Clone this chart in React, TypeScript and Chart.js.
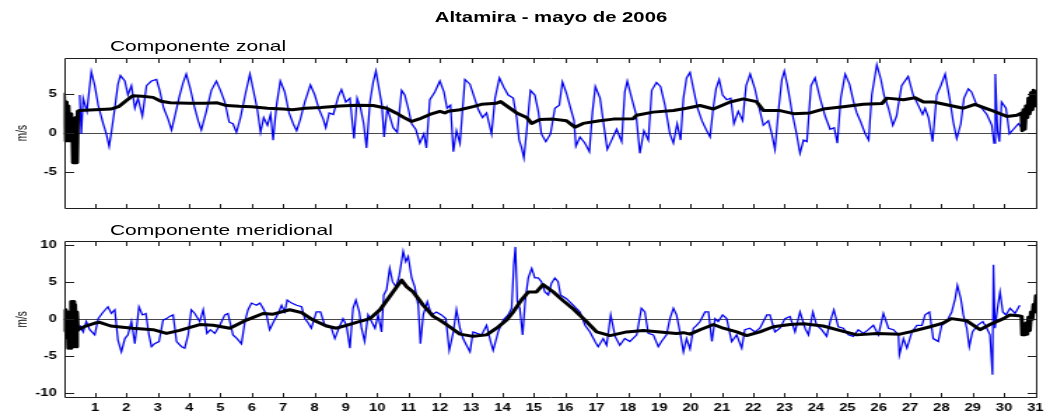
import React, { useEffect, useRef } from 'react';
import { Chart, registerables } from 'chart.js';

Chart.register(...registerables);

const FONT = '"Liberation Sans", Arial, Helvetica, sans-serif';

const dayTicks = [1, 2, 3, 4, 5, 6, 7, 8, 9, 10, 11, 12, 13, 14, 15, 16, 17, 18, 19, 20, 21, 22, 23, 24, 25, 26, 27, 28, 29, 30, 31];
const zonalTicks = [-5, 0, 5];
const meridTicks = [-10, -5, 0, 5, 10];

// Componente zonal – raw (blue)
const zonalTime = [
  0.51, 0.56, 0.62, 0.74, 0.88, 0.99, 1.10, 1.26, 1.36, 1.45, 1.52, 1.63, 1.73, 1.81, 1.95, 2.05, 2.16, 2.27, 2.37, 2.51,
  2.64, 2.80, 2.96, 3.06, 3.19, 3.33, 3.44, 3.57, 3.70, 3.81, 3.91, 4.04, 4.18, 4.29, 4.39, 4.55, 4.71, 4.87, 5.00, 5.14,
  5.28, 5.40, 5.51, 5.64, 5.80, 5.94, 6.04, 6.17, 6.28, 6.38, 6.50, 6.60, 6.68, 6.79, 6.91, 7.05, 7.19, 7.32, 7.43, 7.55,
  7.69, 7.87, 8.01, 8.15, 8.28, 8.36, 8.47, 8.60, 8.76, 8.86, 9.00, 9.13, 9.26, 9.36, 9.47, 9.57, 9.66, 9.77, 9.87, 9.96,
  10.06, 10.15, 10.22, 10.32, 10.51, 10.64, 10.78, 10.88, 10.99, 11.10, 11.23, 11.36, 11.49, 11.57, 11.68, 11.84, 12.00, 12.13, 12.23, 12.34,
  12.43, 12.53, 12.64, 12.80, 12.96, 13.09, 13.23, 13.36, 13.49, 13.65, 13.76, 13.90, 14.04, 14.18, 14.34, 14.45, 14.53, 14.61, 14.68, 14.77,
  14.89, 15.03, 15.14, 15.24, 15.38, 15.53, 15.67, 15.81, 15.91, 16.04, 16.17, 16.28, 16.34, 16.47, 16.63, 16.77, 16.87, 16.96, 17.11, 17.21,
  17.34, 17.48, 17.64, 17.80, 17.90, 17.98, 18.12, 18.26, 18.38, 18.51, 18.65, 18.76, 18.91, 19.04, 19.18, 19.34, 19.45, 19.57, 19.68, 19.77,
  19.87, 19.98, 20.09, 20.22, 20.36, 20.49, 20.62, 20.72, 20.81, 20.91, 21.02, 21.15, 21.28, 21.38, 21.52, 21.66, 21.77, 21.90, 22.05, 22.19,
  22.32, 22.48, 22.59, 22.69, 22.80, 22.91, 22.99, 23.09, 23.23, 23.36, 23.49, 23.60, 23.71, 23.84, 23.97, 24.13, 24.29, 24.45, 24.58, 24.68,
  24.79, 24.93, 25.07, 25.20, 25.30, 25.43, 25.57, 25.68, 25.78, 25.94, 26.07, 26.17, 26.31, 26.45, 26.57, 26.73, 26.94, 27.10, 27.26, 27.40,
  27.48, 27.59, 27.72, 27.85, 27.98, 28.12, 28.26, 28.38, 28.49, 28.62, 28.72, 28.86, 28.96, 29.13, 29.29, 29.45, 29.61, 29.68, 29.72, 29.79,
  29.85, 29.92, 30.06, 30.17, 30.30, 30.46, 30.56
];
const zonalSpeed = [
  4.9, -0.1, 4.5, 2.8, 7.9, 6.1, 3.6, 1.2, -0.1, -1.7, 0.1, 3.2, 6.3, 7.4, 6.7, 4.9, 6.1, 3.2, 4.5, 2.2,
  6.1, 6.7, 6.9, 5.5, 3.2, 1.8, 0.4, 2.6, 4.9, 6.5, 7.6, 5.7, 3.2, 1.6, 0.4, 2.8, 5.5, 6.7, 5.5, 4.0,
  1.4, 1.2, 0.1, 2.0, 5.1, 7.6, 5.7, 3.2, 0.1, 2.0, 1.0, 2.4, -0.9, 3.6, 6.7, 5.3, 2.6, 1.2, 0.3, 1.8,
  4.0, 6.2, 4.9, 3.0, 1.8, 0.7, 2.6, 2.4, 4.7, 5.6, 4.0, 4.5, -0.7, 4.5, 3.2, 1.2, -1.9, 4.0, 6.5, 8.0,
  5.7, 3.6, -0.5, 3.2, 0.7, 0.1, 5.5, 4.9, 3.2, 1.2, 0.5, -1.3, -0.1, -1.9, 4.3, 5.3, 6.7, 5.3, 3.2, 3.6,
  -2.4, 0.3, -1.3, 6.9, 6.3, 4.7, 3.0, 2.0, 2.6, -0.1, 4.5, 7.1, 5.9, 4.9, 4.5, 2.0, -0.9, -1.9, -3.2, 0.3,
  5.5, 4.9, 2.8, -0.1, -1.1, -0.1, 3.2, 3.6, 6.6, 5.1, 3.2, 1.6, -1.7, -0.5, -1.3, -2.4, 2.8, 6.0, 4.5, 1.6,
  -2.1, -0.9, 0.5, -1.1, 5.3, 6.7, 4.5, 2.4, -2.6, 0.3, -0.9, 5.5, 6.5, 6.0, 3.6, -0.1, -1.3, 1.2, -0.9, 4.5,
  7.1, 7.8, 5.7, 3.2, 1.6, 0.5, -0.5, 3.2, 5.7, 6.9, 4.9, 4.3, 4.5, 1.2, 2.8, 1.6, 6.1, 7.6, 5.7, 3.2,
  1.0, 1.6, -0.1, -2.1, 2.8, 6.9, 8.0, 6.1, 2.8, 0.3, -2.6, -0.9, -1.1, 6.1, 7.1, 4.5, 2.2, 0.5, 0.7, -1.3,
  4.5, 7.6, 6.3, 4.0, 2.6, 1.4, -0.1, -0.9, 4.9, 8.8, 6.9, 4.9, 3.2, 1.0, 2.2, 6.1, 7.3, 4.9, 3.6, 2.4,
  3.2, 2.0, -1.1, 4.9, 6.1, 7.6, 4.5, 1.4, -0.7, 1.2, 4.5, 5.7, 5.3, 3.6, 3.2, 2.4, 1.0, -1.3, 7.6, 0.3,
  -1.1, 4.0, 3.2, -0.1, 0.5, 1.2, 0.7
];

// Componente zonal – filtered (black)
const zonalMeanTime = [
  0.00, 0.03, 0.06, 0.09, 0.12, 0.15, 0.18, 0.21, 0.24, 0.27, 0.30, 0.33, 0.36, 0.39, 0.42, 0.45, 0.50, 1.00, 1.50, 1.75,
  2.00, 2.20, 2.50, 2.85, 3.10, 3.40, 4.00, 4.50, 4.90, 5.20, 5.60, 6.00, 6.50, 7.00, 7.30, 7.70, 8.20, 8.81, 9.34, 9.87,
  10.30, 10.60, 10.90, 11.10, 11.40, 11.68, 12.00, 12.16, 12.27, 12.64, 13.06, 13.33, 13.81, 13.94, 14.13, 14.45, 14.77, 14.93, 15.19, 15.62,
  16.04, 16.31, 16.57, 17.10, 17.53, 18.17, 18.28, 18.80, 19.45, 19.87, 20.30, 20.73, 21.26, 21.68, 22.10, 22.32, 22.85, 23.28, 23.81, 24.23,
  24.87, 25.51, 26.10, 26.26, 26.79, 27.16, 27.43, 27.75, 28.28, 28.70, 29.07, 29.55, 30.09, 30.41, 30.56, 30.58, 30.62, 30.66, 30.70, 30.74,
  30.78, 30.82, 30.86, 30.90, 30.94, 30.98, 31.02, 31.05
];
const zonalMean = [
  5.2, 3.0, -1.0, 4.0, -1.0, 3.5, -1.0, 2.5, -1.0, 2.0, -3.8, 1.5, -3.8, 2.0, -3.8, 2.8, 2.9, 3.0, 3.1, 3.4,
  4.2, 4.8, 4.75, 4.6, 4.1, 3.9, 3.85, 3.85, 3.9, 3.55, 3.45, 3.4, 3.2, 3.1, 3.0, 3.2, 3.3, 3.5, 3.6, 3.55,
  3.2, 2.6, 1.9, 1.5, 1.9, 2.4, 2.8, 2.6, 2.8, 3.0, 3.4, 3.7, 3.85, 4.05, 3.5, 2.6, 2.0, 1.25, 1.75, 1.8,
  1.6, 0.75, 1.25, 1.6, 1.8, 1.85, 2.3, 2.7, 2.9, 3.2, 3.55, 3.1, 4.0, 4.4, 4.05, 2.9, 2.9, 2.5, 2.6, 3.1,
  3.4, 3.7, 3.8, 4.5, 4.3, 4.55, 4.0, 4.0, 3.55, 3.2, 3.7, 3.0, 2.15, 2.3, 2.6, 0.3, 3.0, 0.5, 3.5, 2.0,
  4.5, 2.5, 5.2, 3.0, 5.5, 3.5, 5.3, 4.0
];

// Componente meridional – raw (blue)
const meridTime = [
  0.51, 0.62, 0.72, 0.83, 0.99, 1.10, 1.26, 1.41, 1.52, 1.63, 1.73, 1.84, 1.95, 2.05, 2.16, 2.27, 2.40, 2.51, 2.62, 2.72,
  2.80, 2.90, 3.04, 3.17, 3.28, 3.38, 3.49, 3.60, 3.76, 3.86, 3.97, 4.07, 4.18, 4.34, 4.45, 4.57, 4.68, 4.82, 4.98, 5.14,
  5.24, 5.40, 5.53, 5.67, 5.78, 5.88, 5.99, 6.15, 6.26, 6.36, 6.47, 6.57, 6.70, 6.84, 6.95, 7.05, 7.13, 7.27, 7.43, 7.59,
  7.69, 7.80, 7.90, 8.06, 8.19, 8.33, 8.44, 8.54, 8.65, 8.76, 8.91, 9.02, 9.13, 9.23, 9.32, 9.43, 9.50, 9.60, 9.71, 9.82,
  9.93, 10.03, 10.14, 10.21, 10.30, 10.40, 10.49, 10.60, 10.70, 10.83, 10.91, 10.99, 11.10, 11.20, 11.31, 11.38, 11.47, 11.60, 11.73, 11.89,
  12.05, 12.19, 12.30, 12.43, 12.53, 12.64, 12.74, 12.85, 12.96, 13.06, 13.19, 13.33, 13.49, 13.62, 13.70, 13.86, 14.02, 14.18, 14.29, 14.36,
  14.41, 14.47, 14.55, 14.64, 14.72, 14.82, 14.93, 15.03, 15.14, 15.24, 15.35, 15.46, 15.56, 15.67, 15.77, 15.85, 16.04, 16.26, 16.47, 16.63,
  16.79, 16.95, 17.05, 17.21, 17.32, 17.45, 17.59, 17.74, 17.90, 18.06, 18.28, 18.43, 18.54, 18.65, 18.81, 18.97, 19.07, 19.23, 19.34, 19.45,
  19.55, 19.66, 19.77, 19.87, 19.98, 20.09, 20.19, 20.30, 20.46, 20.57, 20.68, 20.78, 20.88, 21.02, 21.15, 21.31, 21.47, 21.63, 21.73, 21.89,
  22.05, 22.21, 22.43, 22.53, 22.69, 22.85, 23.01, 23.17, 23.33, 23.49, 23.65, 23.76, 23.90, 24.02, 24.18, 24.34, 24.45, 24.57, 24.71, 24.87,
  25.03, 25.19, 25.35, 25.51, 25.67, 25.83, 25.99, 26.15, 26.31, 26.47, 26.63, 26.66, 26.79, 26.90, 27.06, 27.22, 27.38, 27.48, 27.62, 27.74,
  27.90, 28.01, 28.17, 28.33, 28.44, 28.51, 28.62, 28.70, 28.81, 28.89, 28.99, 29.15, 29.32, 29.45, 29.55, 29.63, 29.66, 29.71, 29.79, 29.87,
  29.96, 30.06, 30.19, 30.35, 30.50
];
const meridSpeed = [
  -0.8, -1.7, -0.3, -1.4, -2.1, 0.1, 1.0, 1.7, 0.8, 1.3, -2.8, -4.4, -2.6, -2.1, -0.3, -3.3, 1.7, 0.6, 0.8, -2.1,
  -3.7, -3.3, -3.0, -0.1, 0.1, 0.4, 0.6, -3.0, -3.7, -3.9, -2.1, 1.3, 0.8, -0.3, 1.3, -1.9, -1.4, -1.9, -0.8, 0.6,
  0.8, -2.1, -2.6, -3.3, -0.3, 1.3, 2.2, 1.9, 2.2, 1.5, 0.6, -1.4, -0.3, 0.8, 1.9, 1.0, 2.6, 2.2, 1.9, 1.7,
  0.1, -0.5, -1.2, 1.0, 1.0, -0.8, -0.8, -1.2, -2.6, -1.4, 0.1, -0.8, -3.9, 1.5, 2.6, 1.0, -1.2, -3.0, 0.6, -0.3,
  -1.2, 0.6, -1.7, 3.3, 4.0, 6.9, 5.1, 4.4, 5.8, 9.2, 7.8, 8.5, 5.6, 4.4, 1.9, -3.3, 0.6, 2.4, 0.6, 1.0,
  0.6, 0.1, -4.2, -1.7, 1.3, -1.2, -2.6, -3.5, -4.4, -1.7, -1.9, -2.1, -0.8, -3.0, -4.2, -1.7, -0.1, 0.6, 1.5, 7.4,
  9.8, 2.4, 1.5, -2.1, 2.4, 5.6, 6.9, 5.6, 5.6, 5.1, 3.7, 3.3, 4.9, 5.6, 5.1, 3.3, 2.8, 1.9, 1.0, -0.8,
  -1.7, -3.0, -3.7, -2.6, -3.5, 0.6, -2.3, -3.5, -2.6, -3.0, -2.1, 1.5, 1.0, -1.9, -2.1, -3.7, -3.0, -2.1, 0.1, 1.5,
  0.6, -1.7, -4.4, -2.6, -4.0, -1.2, -0.8, -0.3, 1.0, 1.0, -3.0, 0.1, -0.3, 0.6, 0.1, -3.0, -2.1, -3.9, -1.4, -1.2,
  -1.7, -1.2, 0.6, 0.6, -1.7, -1.2, 0.1, 0.4, -1.7, 1.0, -1.2, -2.1, 1.0, -0.8, -1.4, -2.3, -0.3, 1.3, -1.0, -1.2,
  -2.1, -2.3, -1.4, -1.9, -1.4, -0.8, -2.1, 0.8, -1.2, -1.4, -2.1, -4.8, -2.6, -3.9, -1.7, -0.8, -0.8, 0.6, 1.0, -2.6,
  -3.0, -0.8, -0.3, 1.0, 2.8, 4.6, 2.8, 0.6, -1.2, -3.7, -1.7, -0.8, -0.3, -1.2, -2.1, -7.5, 7.4, -1.2, 1.5, 3.7,
  1.0, 0.6, 1.5, 0.8, 1.9
];

// Componente meridional – filtered (black)
const meridMeanTime = [
  0.00, 0.03, 0.06, 0.09, 0.12, 0.15, 0.18, 0.21, 0.24, 0.27, 0.30, 0.33, 0.36, 0.39, 0.42, 0.45, 0.50, 0.70, 1.00, 1.15,
  1.50, 2.20, 2.85, 3.28, 3.70, 4.34, 4.77, 5.30, 5.83, 6.36, 6.68, 7.21, 7.59, 7.96, 8.38, 8.70, 9.02, 9.34, 9.77, 10.09,
  10.40, 10.78, 10.94, 11.15, 11.47, 11.79, 12.00, 12.31, 12.64, 13.06, 13.49, 13.81, 14.13, 14.34, 14.60, 14.82, 15.08, 15.29, 15.62, 15.94,
  16.26, 16.68, 17.00, 17.43, 17.96, 18.49, 19.02, 19.55, 19.77, 19.98, 20.30, 20.73, 21.04, 21.47, 21.79, 22.21, 22.64, 23.17, 23.60, 24.23,
  24.66, 25.30, 25.94, 26.68, 27.00, 27.64, 28.05, 28.32, 28.81, 29.23, 29.55, 29.98, 30.19, 30.46, 30.56, 30.58, 30.62, 30.66, 30.70, 30.74,
  30.78, 30.82, 30.86, 30.90, 30.94, 30.98, 31.02, 31.05
];
const meridMean = [
  1.3, -1.5, 1.3, -2.5, 1.0, -3.9, 0.5, -3.9, 2.4, -3.0, 2.4, -3.7, 2.0, -3.7, 1.0, -1.5, -1.3, -0.9, -0.5, -0.4,
  -0.9, -1.2, -1.4, -1.9, -1.5, -0.7, -0.8, -1.2, -0.1, 0.8, 0.7, 1.3, 0.9, -0.1, -0.9, -1.2, -0.8, -0.4, 0.1, 1.3,
  3.1, 5.3, 4.4, 3.7, 1.9, 0.4, -0.1, -1.0, -2.0, -2.3, -2.1, -1.2, -0.1, 1.0, 2.6, 3.7, 3.7, 4.7, 3.7, 2.5,
  1.4, -0.3, -1.7, -2.2, -1.7, -1.5, -1.7, -1.9, -1.8, -2.0, -1.4, -0.7, -1.2, -1.7, -2.2, -1.7, -1.0, -0.7, -0.6, -0.9,
  -1.4, -2.1, -1.9, -2.0, -1.7, -1.0, -0.5, 0.1, -0.2, -1.4, -0.7, 0.1, 0.6, 0.5, 0.4, -2.1, -0.8, -2.1, -0.5, -2.0,
  0.3, -1.5, 1.0, 0.0, 2.0, 1.0, 3.2, 2.5
];

const toPoints = (t: number[], v: number[]) => t.map((x, i) => ({ x, y: v[i] }));

function framePlugin(yTicks: number[]) {
  return {
    id: 'matlabFrame',
    beforeDatasetsDraw(chart: any) {
      const { ctx, chartArea: a, scales } = chart;
      const y0 = Math.round(scales.y.getPixelForValue(0)) + 0.5;
      ctx.save();
      ctx.strokeStyle = '#4a4a4a';
      ctx.lineWidth = 1;
      ctx.beginPath();
      ctx.moveTo(a.left, y0);
      ctx.lineTo(a.right, y0);
      ctx.stroke();
      ctx.restore();
    },
    afterDatasetsDraw(chart: any) {
      const { ctx, chartArea: a, scales } = chart;
      const L = Math.round(a.left) + 0.5;
      const R = Math.round(a.right) - 0.5;
      const T = Math.round(a.top) + 0.5;
      const B = Math.round(a.bottom) - 0.5;
      ctx.save();
      ctx.strokeStyle = '#1e1e1e';
      ctx.lineWidth = 1;
      ctx.beginPath();
      ctx.rect(L, T, R - L, B - T);
      for (const d of dayTicks) {
        const px = Math.round(scales.x.getPixelForValue(d)) + 0.5;
        ctx.moveTo(px, B);
        ctx.lineTo(px, B - 4.5);
        ctx.moveTo(px, T);
        ctx.lineTo(px, T + 4.5);
      }
      for (const v of yTicks) {
        const py = Math.round(scales.y.getPixelForValue(v)) + 0.5;
        ctx.moveTo(L, py);
        ctx.lineTo(L + 6.5, py);
        ctx.moveTo(R, py);
        ctx.lineTo(R - 6.5, py);
      }
      ctx.stroke();
      ctx.fillStyle = '#000';
      ctx.font = `10px ${FONT}`;
      ctx.textAlign = 'center';
      ctx.textBaseline = 'middle';
      ctx.translate(16.7, (a.top + a.bottom) / 2);
      ctx.rotate(-Math.PI / 2);
      ctx.fillText('m/s', 0, 0);
      ctx.restore();
    },
  };
}

interface PanelOpts {
  time: number[];
  values: number[];
  meanTime: number[];
  meanValues: number[];
  yMin: number;
  yMax: number;
  yTicks: number[];
  showX: boolean;
  padTop: number;
  padBottom: number;
  xHeight: number;
}

function makeChart(canvas: HTMLCanvasElement, o: PanelOpts) {
  return new Chart(canvas, {
    type: 'line',
    data: {
      datasets: [
        {
          data: toPoints(o.meanTime, o.meanValues),
          borderColor: '#000000',
          borderWidth: 3,
          pointRadius: 0,
          tension: 0,
          borderJoinStyle: 'round',
          clip: 0,
        },
        {
          data: toPoints(o.time, o.values),
          borderColor: '#0000f0',
          borderWidth: 1.25,
          pointRadius: 0,
          tension: 0,
          clip: 0,
        },
      ],
    } as any,
    options: {
      responsive: false,
      animation: false,
      events: [],
      devicePixelRatio: 1,
      layout: { padding: { left: 0, right: 9.3, top: o.padTop, bottom: o.padBottom } },
      plugins: { legend: { display: false }, tooltip: { enabled: false }, title: { display: false } },
      scales: {
        x: {
          type: 'linear',
          min: 0,
          max: 31.05,
          display: o.showX,
          grid: { display: false, drawTicks: false },
          border: { display: false },
          afterBuildTicks: (s: any) => {
            s.ticks = dayTicks.map((v) => ({ value: v }));
          },
          afterFit: (s: any) => {
            s.height = o.xHeight;
          },
          ticks: {
            autoSkip: false,
            maxRotation: 0,
            padding: 4,
            color: '#000',
            font: { family: FONT, size: 10.5, weight: 'bold' },
            callback: (v: any) => String(v),
          },
        },
        y: {
          type: 'linear',
          min: o.yMin,
          max: o.yMax,
          grid: { display: false, drawTicks: false },
          border: { display: false },
          afterBuildTicks: (s: any) => {
            s.ticks = o.yTicks.map((v) => ({ value: v }));
          },
          afterFit: (s: any) => {
            s.width = 45.5;
          },
          ticks: {
            padding: 5,
            color: '#000',
            font: { family: FONT, size: 10.5, weight: 'bold' },
            callback: (v: any) => String(v),
          },
        },
      },
    } as any,
    plugins: [framePlugin(o.yTicks)],
  });
}

export default function App() {
  const topRef = useRef<HTMLCanvasElement>(null);
  const botRef = useRef<HTMLCanvasElement>(null);

  useEffect(() => {
    document.body.style.overflow = 'hidden';
    const c1 = makeChart(topRef.current!, {
      time: zonalTime,
      values: zonalSpeed,
      meanTime: zonalMeanTime,
      meanValues: zonalMean,
      yMin: -9.73,
      yMax: 9.73,
      yTicks: zonalTicks,
      showX: false,
      padTop: 57.5,
      padBottom: 6,
      xHeight: 0,
    });
    const c2 = makeChart(botRef.current!, {
      time: meridTime,
      values: meridSpeed,
      meanTime: meridMeanTime,
      meanValues: meridMean,
      yMin: -10.6,
      yMax: 10.6,
      yTicks: meridTicks,
      showX: true,
      padTop: 21,
      padBottom: 0,
      xHeight: 18.3,
    });
    return () => {
      c1.destroy();
      c2.destroy();
    };
  }, []);

  return (
    <div
      style={{
        position: 'absolute',
        left: 0,
        top: 0,
        width: 750,
        height: 416,
        transform: 'scaleX(1.4)',
        transformOrigin: '0 0',
        background: '#ffffff',
        fontFamily: FONT,
        color: '#000',
      }}
    >
      <canvas ref={topRef} width={750} height={220} style={{ position: 'absolute', left: 0, top: 0 }} />
      <canvas ref={botRef} width={750} height={196} style={{ position: 'absolute', left: 0, top: 220 }} />
      <div
        style={{
          position: 'absolute',
          left: 393.6,
          top: 10.4,
          transform: 'translateX(-50%)',
          fontWeight: 'bold',
          fontSize: 14.5,
          lineHeight: 1,
          whiteSpace: 'nowrap',
        }}
      >
        Altamira - mayo de 2006
      </div>
      <div style={{ position: 'absolute', left: 78.5, top: 38.4, fontSize: 15, lineHeight: 1, whiteSpace: 'nowrap' }}>
        Componente zonal
      </div>
      <div style={{ position: 'absolute', left: 78.5, top: 221.7, fontSize: 15, lineHeight: 1, whiteSpace: 'nowrap' }}>
        Componente meridional
      </div>
    </div>
  );
}
